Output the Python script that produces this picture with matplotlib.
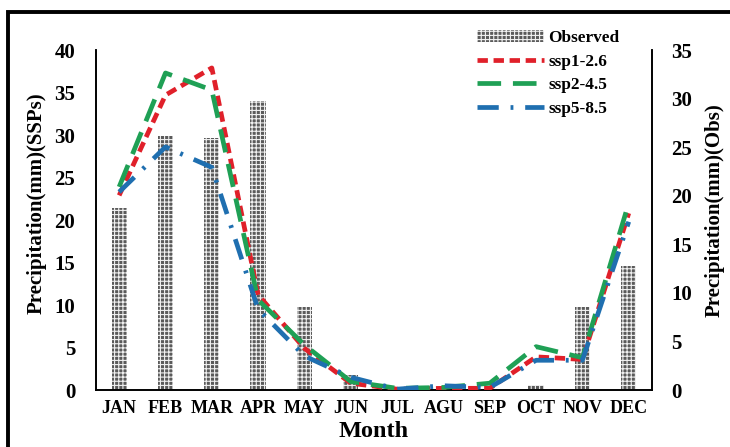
import numpy as np
import matplotlib.pyplot as plt
from matplotlib.patches import Rectangle

# Datos
meses = ['JAN', 'FEB', 'MAR', 'APR', 'MAY', 'JUN', 'JUL', 'AGU', 'SEP', 'OCT', 'NOV', 'DEC']
observado = [18.7, 26.2, 25.9, 29.8, 8.5, 1.5, 0.0, 0.0, 0.0, 0.5, 8.5, 12.8]
ssp126 = [22.9, 34.7, 37.9, 11.2, 4.9, 0.8, 0.1, 0.2, 0.2, 3.9, 3.6, 20.8]
ssp245 = [23.9, 37.3, 35.3, 10.6, 5.3, 1.0, 0.2, 0.3, 0.8, 5.1, 3.8, 22.0]
ssp585 = [23.3, 28.6, 26.2, 9.5, 4.0, 1.5, 0.1, 0.5, 0.3, 3.5, 3.5, 19.8]

plt.rcParams['font.family'] = ['Liberation Serif', 'DejaVu Serif']
plt.rcParams['font.weight'] = 'bold'
plt.rcParams['hatch.color'] = '#f0f0f0'
plt.rcParams['hatch.linewidth'] = 0.8

fig = plt.figure(figsize=(7.3, 4.47), dpi=100)
ax = fig.add_axes([0.1315, 0.1275, 0.7615, 0.7605])
ax2 = ax.twinx()

x = np.arange(len(meses))

# Barras observadas (eje derecho)
barras = ax2.bar(x, observado, width=0.33, color='#5a5a5a', hatch='++++',
                 linewidth=0, label='Observed', zorder=1)

# Lineas de escenarios (eje izquierdo)
l1, = ax.plot(x, ssp126, color='#e0202a', lw=3.4, linestyle=(0, (2.2, 1.2)), label='ssp1-2.6', zorder=3)
l2, = ax.plot(x, ssp245, color='#1fa055', lw=3.4, linestyle=(0, (5, 2.5)), label='ssp2-4.5', zorder=3)
l3, = ax.plot(x, ssp585, color='#1f6fb0', lw=3.4, linestyle=(0, (4.5, 2.5, 0.6, 2.5)), label='ssp5-8.5', zorder=3)

ax.set_zorder(ax2.get_zorder() + 1)
ax.patch.set_visible(False)

ax.set_xlim(-0.5, 11.5)
ax.set_ylim(0, 40)
ax2.set_ylim(0, 35)
ax.set_yticks(np.arange(0, 41, 5))
ax2.set_yticks(np.arange(0, 36, 5))
ax.set_xticks(x)
ax.set_xticklabels(meses)

for a in (ax, ax2):
    a.tick_params(axis='both', length=0, labelsize=15)
    a.spines['top'].set_visible(False)
    for s in ('left', 'right', 'bottom'):
        a.spines[s].set_linewidth(1.2)
ax.tick_params(axis='y', pad=15)
ax2.tick_params(axis='y', pad=14)
ax.tick_params(axis='x', pad=7, labelsize=13)

ax.set_ylabel('Precipitation(mm)(SSPs)', fontsize=15, fontweight='bold')
ax2.set_ylabel('Precipitation(mm)(Obs)', fontsize=15, fontweight='bold', rotation=90)
ax.yaxis.set_label_coords(-0.088, 0.55)
ax2.yaxis.set_label_coords(1.095, 0.53)
ax.set_xlabel('Month', fontsize=17.5, fontweight='bold', labelpad=3)

ax.legend([barras, l1, l2, l3], ['Observed', 'ssp1-2.6', 'ssp2-4.5', 'ssp5-8.5'],
          loc='upper right', bbox_to_anchor=(0.969, 1.105), frameon=False,
          handlelength=3.9, handletextpad=0.25, labelspacing=0.44,
          prop={'weight': 'bold', 'size': 12.4})

# Marco exterior
fig.patches.append(Rectangle((8 / 730, -0.1), 1.2, (447 - 12) / 447 + 0.1,
                             transform=fig.transFigure, fill=False,
                             edgecolor='black', lw=2.8, clip_on=False))

fig.savefig('out.png', dpi=100)
